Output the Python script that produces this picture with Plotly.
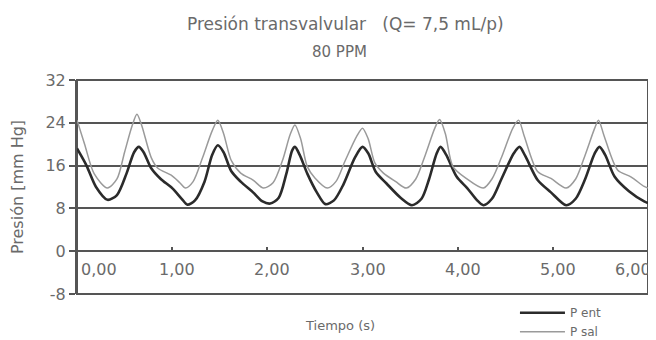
import plotly.graph_objects as go

# ---- data ----
t_ent = [0.00, 0.10, 0.20, 0.32, 0.42, 0.52, 0.60, 0.65, 0.70, 0.78, 0.88, 1.00, 1.10, 1.16,
         1.24, 1.34, 1.42, 1.48, 1.54, 1.62, 1.72, 1.85, 1.95, 2.03, 2.12, 2.20, 2.26, 2.29,
         2.34, 2.42, 2.52, 2.61, 2.70, 2.80, 2.92, 3.00, 3.06, 3.14, 3.25, 3.40, 3.52, 3.62,
         3.70, 3.78, 3.82, 3.88, 3.99, 4.10, 4.20, 4.27, 4.36, 4.46, 4.59, 4.65, 4.71, 4.84,
         4.98, 5.14, 5.24, 5.34, 5.44, 5.49, 5.55, 5.65, 5.80, 5.96, 6.00]
p_ent = [19.2, 16.0, 12.0, 9.6, 10.5, 14.5, 18.5, 19.5, 18.5, 15.5, 13.5, 11.8, 9.8, 8.7,
         9.5, 13.0, 18.0, 19.8, 18.5, 15.0, 13.0, 11.0, 9.3, 8.9, 10.0, 14.5, 18.8, 19.5,
         18.0, 14.5, 11.0, 8.8, 9.5, 12.5, 17.5, 19.5, 18.3, 14.8, 12.7, 10.0, 8.6, 9.8,
         13.5, 18.3, 19.5, 18.0, 13.9, 11.8, 9.6, 8.6, 9.8, 13.5, 18.3, 19.5, 17.8, 13.3,
         11.0, 8.6, 9.8, 13.5, 18.3, 19.5, 18.0, 13.9, 11.2, 9.3, 9.0]

t_sal = [0.00, 0.08, 0.18, 0.32, 0.42, 0.50, 0.58, 0.63, 0.68, 0.78, 0.85, 0.99, 1.08, 1.14,
         1.22, 1.32, 1.42, 1.48, 1.54, 1.62, 1.72, 1.85, 1.96, 2.06, 2.16, 2.24, 2.29, 2.35,
         2.42, 2.50, 2.63, 2.72, 2.82, 2.94, 3.00, 3.06, 3.13, 3.22, 3.35, 3.46, 3.56, 3.66,
         3.76, 3.81, 3.87, 3.95, 4.09, 4.27, 4.36, 4.46, 4.58, 4.64, 4.70, 4.84, 4.98, 5.14,
         5.24, 5.34, 5.44, 5.48, 5.54, 5.68, 5.82, 5.96, 6.00]
p_sal = [24.5, 20.0, 14.5, 11.8, 13.5, 18.5, 23.5, 25.6, 23.5, 17.5, 15.5, 14.2, 12.8, 11.8,
         13.0, 17.5, 22.5, 24.5, 22.0, 17.0, 14.6, 13.3, 11.8, 12.8, 17.0, 21.8, 23.6, 21.0,
         15.8, 13.7, 11.8, 13.0, 17.0, 21.5, 23.0, 21.0, 16.5, 14.6, 13.0, 11.8, 13.5, 18.0,
         23.0, 24.6, 22.0, 15.8, 13.6, 11.8, 13.5, 17.5, 23.0, 24.5, 21.5, 14.9, 13.6, 11.8,
         13.5, 18.0, 23.0, 24.5, 21.5, 15.2, 13.9, 12.1, 11.8]

x_tick_vals = [0, 1, 2, 3, 4, 5, 6]
x_tick_labels = ["0,00", "1,00", "2,00", "3,00", "4,00", "5,00", "6,00"]
y_tick_vals = [-8, 0, 8, 16, 24, 32]
y_tick_labels = ["-8", "0", "8", "16", "24", "32"]
series_names = ["P ent", "P sal"]

title_1 = "Presión transvalvular   (Q= 7,5 mL/p)"
title_2 = "80 PPM"
x_title = "Tiempo (s)"
y_title = "Presión [mm Hg]"

# ---- styling ----
FONT = "DejaVu Sans"
TXT = "#6a6a6a"
GRID = "#555555"

fig = go.Figure()
fig.add_trace(go.Scatter(x=t_ent, y=p_ent, mode="lines", name=series_names[0],
                         line=dict(color="#2b2b2b", width=2.6, shape="spline", smoothing=0.8)))
fig.add_trace(go.Scatter(x=t_sal, y=p_sal, mode="lines", name=series_names[1],
                         line=dict(color="#9a9a9a", width=1.5, shape="spline", smoothing=0.8)))

# x tick labels sit just below the y=0 axis line, as in the reference
annotations = []
n = len(x_tick_vals)
for i, (v, lab) in enumerate(zip(x_tick_vals, x_tick_labels)):
    if i == 0:
        anchor, xs = "left", 2
    elif i == n - 1:
        anchor, xs = "right", 5
    else:
        anchor, xs = "center", 5
    annotations.append(dict(text=lab, x=v, y=0, xref="x", yref="y", xanchor=anchor,
                            yanchor="middle", xshift=xs, yshift=-18, showarrow=False,
                            font=dict(size=16, color=TXT, family=FONT)))

annotations += [
    dict(text=title_1, xref="paper", yref="paper", x=0.47, y=1.0, yshift=56, yanchor="middle",
         showarrow=False, font=dict(size=17, color=TXT, family=FONT)),
    dict(text=title_2, xref="paper", yref="paper", x=0.46, y=1.0, yshift=28, yanchor="middle",
         showarrow=False, font=dict(size=15, color=TXT, family=FONT)),
    dict(text=x_title, xref="paper", yref="paper", x=0.46, y=0.0, yshift=-31, yanchor="middle",
         showarrow=False, font=dict(size=13, color=TXT, family=FONT)),
]

# the page body adds an 8px margin, so the figure is 8px smaller in each direction
fig.update_layout(
    width=648, height=332,
    margin=dict(l=69, r=8, t=72, b=46, autoexpand=False),
    paper_bgcolor="white", plot_bgcolor="white",
    font=dict(family=FONT, color=TXT, size=13),
    showlegend=True,
    legend=dict(x=0.767, y=-0.02, xanchor="left", yanchor="top",
                bgcolor="rgba(0,0,0,0)", font=dict(size=12, color=TXT),
                itemwidth=45, tracegroupgap=0),
    xaxis=dict(range=[0, 6], anchor="free", position=0.2,
               tickmode="array", tickvals=x_tick_vals, showticklabels=False,
               showgrid=False, zeroline=False,
               showline=True, linecolor=GRID, linewidth=2,
               ticks="inside", ticklen=3, tickcolor=GRID, tickwidth=2,
               automargin=False),
    yaxis=dict(range=[-8, 32], tickmode="array", tickvals=y_tick_vals, ticktext=y_tick_labels,
               showgrid=True, gridcolor=GRID, gridwidth=2, zeroline=False,
               showline=True, linecolor=GRID, linewidth=2,
               ticks="outside", ticklen=6, tickcolor=GRID, tickwidth=2,
               tickfont=dict(size=16, color=TXT, family=FONT),
               title=dict(text=y_title, font=dict(size=16, color=TXT, family=FONT), standoff=18),
               automargin=False),
    shapes=[dict(type="rect", xref="paper", yref="paper", x0=0, x1=1, y0=0, y1=1,
                 line=dict(color=GRID, width=2), layer="below")],
    annotations=annotations,
)

fig.write_html("out.html")
